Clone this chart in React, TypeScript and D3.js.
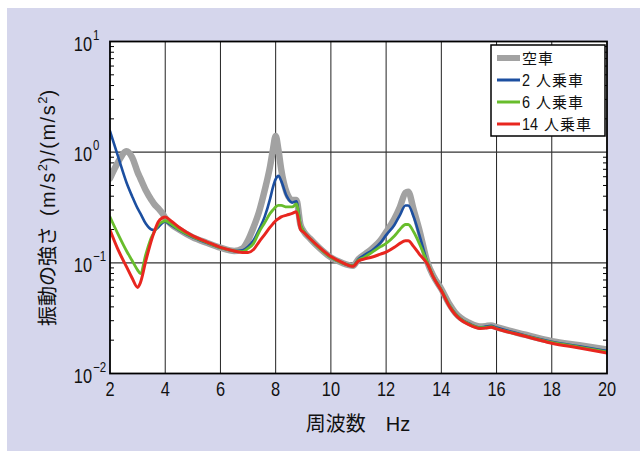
import React from 'react';
import * as d3 from 'd3';

// frequency (Hz) sample points
const freq = [2.0, 2.3, 2.6, 2.8, 3.0, 3.1, 3.3, 3.5, 3.6, 3.75, 3.9, 4.0, 4.2, 4.5, 5.0, 5.5, 6.0, 6.5, 6.8, 7.0,
  7.2, 7.4, 7.6, 7.8, 7.9, 8.0, 8.1, 8.2, 8.4, 8.6, 8.75, 8.9, 9.0, 9.25, 9.6, 10.0, 10.4, 10.8, 11.0, 11.2,
  11.5, 11.8, 12.0, 12.3, 12.5, 12.7, 12.8, 13.0, 13.2, 13.5, 13.7, 14.0, 14.3, 14.5, 14.7, 15.0, 15.4, 15.6, 15.8,
  16.0, 17.0, 18.0, 19.0, 20.0];

const empty = [0.58, 0.82, 1.02, 0.90, 0.66, 0.58, 0.45, 0.37, 0.34, 0.31, 0.28, 0.255, 0.225, 0.20, 0.17, 0.152, 0.137, 0.128, 0.135, 0.16,
  0.21, 0.29, 0.45, 0.75, 1.05, 1.40, 1.05, 0.70, 0.43, 0.37, 0.37, 0.22, 0.195, 0.165, 0.135, 0.112, 0.100, 0.094, 0.108, 0.118,
  0.135, 0.16, 0.19, 0.25, 0.32, 0.43, 0.44, 0.30, 0.20, 0.10, 0.077, 0.058, 0.042, 0.0355, 0.0318, 0.0288, 0.0266, 0.0268, 0.0272,
  0.0262, 0.0225, 0.0196, 0.018, 0.0165];

const pass2 = [1.55, 0.90, 0.53, 0.40, 0.31, 0.28, 0.225, 0.20, 0.198, 0.21, 0.23, 0.235, 0.22, 0.198, 0.17, 0.152, 0.137, 0.128, 0.13, 0.14,
  0.16, 0.20, 0.26, 0.38, 0.48, 0.57, 0.61, 0.55, 0.40, 0.35, 0.36, 0.22, 0.195, 0.165, 0.135, 0.112, 0.100, 0.094, 0.108, 0.117,
  0.13, 0.152, 0.178, 0.22, 0.27, 0.33, 0.33, 0.26, 0.18, 0.10, 0.076, 0.057, 0.041, 0.035, 0.0312, 0.0283, 0.0261, 0.0265, 0.027,
  0.026, 0.0222, 0.0194, 0.0176, 0.016];

const pass6 = [0.26, 0.18, 0.128, 0.105, 0.086, 0.080, 0.12, 0.17, 0.19, 0.22, 0.235, 0.24, 0.225, 0.20, 0.172, 0.153, 0.137, 0.128, 0.126, 0.135,
  0.15, 0.19, 0.23, 0.28, 0.30, 0.32, 0.33, 0.33, 0.32, 0.32, 0.34, 0.22, 0.195, 0.165, 0.135, 0.112, 0.100, 0.094, 0.106, 0.112,
  0.125, 0.14, 0.15, 0.175, 0.20, 0.222, 0.222, 0.19, 0.15, 0.10, 0.076, 0.057, 0.041, 0.0347, 0.031, 0.028, 0.0259, 0.026, 0.0265,
  0.0255, 0.022, 0.0191, 0.0173, 0.0157];

const pass14 = [0.198, 0.13, 0.092, 0.073, 0.060, 0.066, 0.105, 0.16, 0.19, 0.235, 0.255, 0.26, 0.24, 0.21, 0.175, 0.155, 0.138, 0.128, 0.124, 0.124,
  0.132, 0.155, 0.18, 0.21, 0.225, 0.24, 0.25, 0.26, 0.27, 0.28, 0.29, 0.20, 0.19, 0.165, 0.137, 0.114, 0.101, 0.093, 0.104, 0.108,
  0.113, 0.12, 0.125, 0.138, 0.15, 0.158, 0.158, 0.14, 0.12, 0.097, 0.075, 0.056, 0.040, 0.0342, 0.0306, 0.0276, 0.0255, 0.0257, 0.0262,
  0.0253, 0.0218, 0.0188, 0.017, 0.0153];

const xTicks = [2, 4, 6, 8, 10, 12, 14, 16, 18, 20];
const yExps = [1, 0, -1, -2];
const legendNums = ['', '2', '6', '14'];
const legendWords = ['空車', '人乗車', '人乗車', '人乗車'];

const series = [
  { values: empty, color: '#a2a2a2', width: 6.5 },
  { values: pass2, color: '#1c4fa0', width: 2.6 },
  { values: pass6, color: '#68bd2c', width: 2.8 },
  { values: pass14, color: '#e8261f', width: 3 },
];

const W = 640, H = 451;
const plot = { left: 110, right: 607, top: 41.5, bottom: 373.5 };
const numFont = '"Liberation Sans", Arial, sans-serif';
const jpFont = '"Noto Sans CJK JP", sans-serif';

export default function App() {
  const x = d3.scaleLinear().domain([2, 20]).range([plot.left, plot.right]);
  const y = d3.scaleLog().domain([0.01, 10]).range([plot.bottom, plot.top]);

  const line = d3.line<number>()
    .x((_, i) => x(freq[i]))
    .y(d => y(d))
    .curve(d3.curveMonotoneX);

  // minor log ticks 2..9 in every decade
  const minors: number[] = [];
  [0.01, 0.1, 1].forEach(dec => {
    for (let k = 2; k <= 9; k++) minors.push(dec * k);
  });

  const lx = 491, ly = 45, lw = 114, lh = 91;
  const rows = [58, 80, 102, 124];

  return (
    <svg width={W} height={H} style={{ position: 'absolute', left: 0, top: 0 }}>
      <rect x={7} y={8} width={W - 7} height={H - 8} fill="#d5d6ec" />
      <rect x={plot.left} y={plot.top} width={plot.right - plot.left} height={plot.bottom - plot.top} fill="#fff" />

      {/* grid */}
      {xTicks.slice(1, -1).map(t => (
        <line key={'gx' + t} x1={x(t)} x2={x(t)} y1={plot.top} y2={plot.bottom} stroke="#222" strokeWidth={1} />
      ))}
      {yExps.slice(1, -1).map(e => (
        <line key={'gy' + e} x1={plot.left} x2={plot.right} y1={y(10 ** e)} y2={y(10 ** e)} stroke="#333" strokeWidth={1.2} />
      ))}
      {minors.map((m, i) => (
        <g key={'mt' + i}>
          <line x1={plot.left} x2={plot.left + 4} y1={y(m)} y2={y(m)} stroke="#000" strokeWidth={1} />
          <line x1={plot.right - 4} x2={plot.right} y1={y(m)} y2={y(m)} stroke="#000" strokeWidth={1} />
        </g>
      ))}

      {/* curves */}
      <clipPath id="clip">
        <rect x={plot.left} y={plot.top} width={plot.right - plot.left} height={plot.bottom - plot.top} />
      </clipPath>
      <g clipPath="url(#clip)">
        {series.map((s, i) => (
          <path key={'s' + i} d={line(s.values) || ''} fill="none" stroke={s.color} strokeWidth={s.width}
            strokeLinejoin="round" strokeLinecap="round" />
        ))}
      </g>

      <rect x={plot.left} y={plot.top} width={plot.right - plot.left} height={plot.bottom - plot.top}
        fill="none" stroke="#000" strokeWidth={1.8} />

      {/* x tick labels */}
      {xTicks.map(t => (
        <text key={'xl' + t} transform={`translate(${x(t)},396) scale(0.82,1)`} textAnchor="middle"
          fontFamily={numFont} fontSize={20} fill="#111">{t}</text>
      ))}

      {/* y tick labels */}
      {yExps.map(e => (
        <g key={'yl' + e}>
          <text transform={`translate(92,${y(10 ** e) + 9}) scale(0.82,1)`} textAnchor="end"
            fontFamily={numFont} fontSize={20} fill="#111">10</text>
          <text transform={`translate(93,${y(10 ** e) - 2}) scale(0.82,1)`} textAnchor="start"
            fontFamily={numFont} fontSize={14} fill="#111">{e < 0 ? '\u2212' + -e : e}</text>
        </g>
      ))}

      {/* axis titles */}
      <text x={358} y={431} textAnchor="middle" fontFamily={jpFont} fontSize={20} fill="#111">
        周波数{'\u3000'}<tspan fontFamily={numFont}>Hz</tspan>
      </text>
      <text transform="translate(55,208) rotate(-90)" textAnchor="middle" fontFamily={jpFont} fontSize={20} fill="#111">
        振動の強さ<tspan dx={10} fontFamily={numFont} letterSpacing={1.5}>(m/s</tspan>
        <tspan dy={-8} fontSize={13} fontFamily={numFont}>2</tspan>
        <tspan dy={8} fontFamily={numFont} letterSpacing={1.5}>)/(m/s</tspan>
        <tspan dy={-8} fontSize={13} fontFamily={numFont}>2</tspan>
        <tspan dy={8} fontFamily={numFont}>)</tspan>
      </text>

      {/* legend */}
      <rect x={lx} y={ly} width={lw} height={lh} fill="#fff" stroke="#000" strokeWidth={1.5} />
      {series.map((s, i) => (
        <g key={'lg' + i}>
          <line x1={497} x2={520} y1={rows[i]} y2={rows[i]} stroke={s.color} strokeWidth={i === 0 ? 6 : 3} />
          {legendNums[i] ? (
            <text transform={`translate(522,${rows[i] + 6}) scale(0.85,1)`} fontFamily={numFont} fontSize={17} fill="#111">
              {legendNums[i]}
            </text>
          ) : null}
          <text x={legendNums[i] ? 522 + legendNums[i].length * 8 + 6 : 522} y={rows[i] + 5.5}
            fontFamily={jpFont} fontSize={15} letterSpacing={1} fill="#111">{legendWords[i]}</text>
        </g>
      ))}
    </svg>
  );
}
